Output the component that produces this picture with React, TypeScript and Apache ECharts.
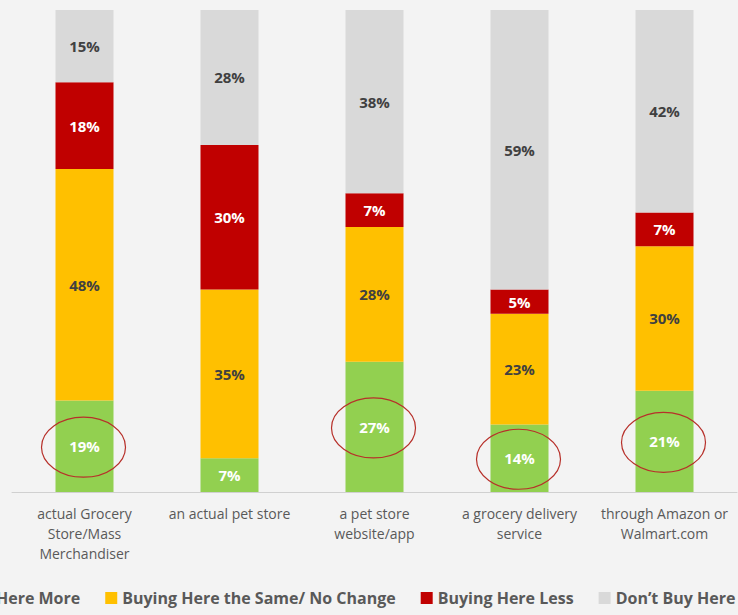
import React, { useEffect, useRef } from "react";
import * as echarts from "echarts";

const categories = [
  "actual Grocery\nStore/Mass\nMerchandiser",
  "an actual pet store",
  "a pet store\nwebsite/app",
  "a grocery delivery\nservice",
  "through Amazon or\nWalmart.com",
];
const seriesNames = [
  "Buying Here More",
  "Buying Here the Same/ No Change",
  "Buying Here Less",
  "Don\u2019t Buy Here",
];
const moreValues = [19, 7, 27, 14, 21];
const sameValues = [48, 35, 28, 23, 30];
const lessValues = [18, 30, 7, 5, 7];
const dontValues = [15, 28, 38, 59, 42];
const circledBars = [0, 2, 3, 4];

const colors = ["#92d050", "#ffc000", "#c00000", "#d9d9d9"];
const labelColors = ["#ffffff", "#404040", "#ffffff", "#404040"];
const FONT = "'Open Sans', Lato, sans-serif";

export default function App() {
  const ref = useRef<HTMLDivElement>(null);
  useEffect(() => {
    if (!ref.current) return;
    const chart = echarts.init(ref.current, null, { renderer: "svg" });
    const allValues = [moreValues, sameValues, lessValues, dontValues];
    const option: any = {
      animation: false,
      backgroundColor: "#f3f3f3",
      textStyle: { fontFamily: FONT },
      grid: { left: 12, right: 1, top: 10, bottom: 123, containLabel: false },
      legend: {
        data: seriesNames,
        left: -80,
        top: 590,
        width: 1000,
        padding: 0,
        icon: "rect",
        itemWidth: 12,
        itemHeight: 12,
        itemGap: 25,
        textStyle: { fontSize: 16, fontWeight: "bold", color: "#595959", fontFamily: FONT },
      },
      xAxis: {
        type: "category",
        data: categories,
        axisLine: { lineStyle: { color: "#d0d0d0", width: 1 } },
        axisTick: { show: false },
        axisLabel: {
          color: "#595959",
          fontSize: 14,
          lineHeight: 20,
          margin: 11,
          fontFamily: FONT,
          interval: 0,
        },
      },
      yAxis: {
        type: "value",
        min: 0,
        max: 100,
        show: false,
        splitLine: { show: false },
      },
      series: allValues.map((vals, i) => ({
        name: seriesNames[i],
        type: "bar",
        stack: "total",
        barWidth: 58,
        clip: true,
        data: vals,
        itemStyle: { color: colors[i] },
        label: {
          show: true,
          position: "inside",
          formatter: "{c}%",
          color: labelColors[i],
          fontSize: 15,
          fontWeight: "bold",
          fontFamily: FONT,
        },
      })),
    };
    chart.setOption(option);
    const ellipses = circledBars.map((idx) => {
      const p = chart.convertToPixel({ gridIndex: 0 }, [idx, moreValues[idx] / 2]) as number[];
      return {
        type: "ellipse",
        shape: { cx: p[0] - 1, cy: p[1] + 1, rx: 42, ry: 30 },
        style: { fill: "none", stroke: "#b7302a", lineWidth: 1.2 },
        z: 100,
      };
    });
    chart.setOption({ graphic: ellipses });
    return () => chart.dispose();
  }, []);
  return (
    <div
      ref={ref}
      style={{ position: "fixed", left: 0, top: 0, width: 738, height: 615 }}
    />
  );
}
